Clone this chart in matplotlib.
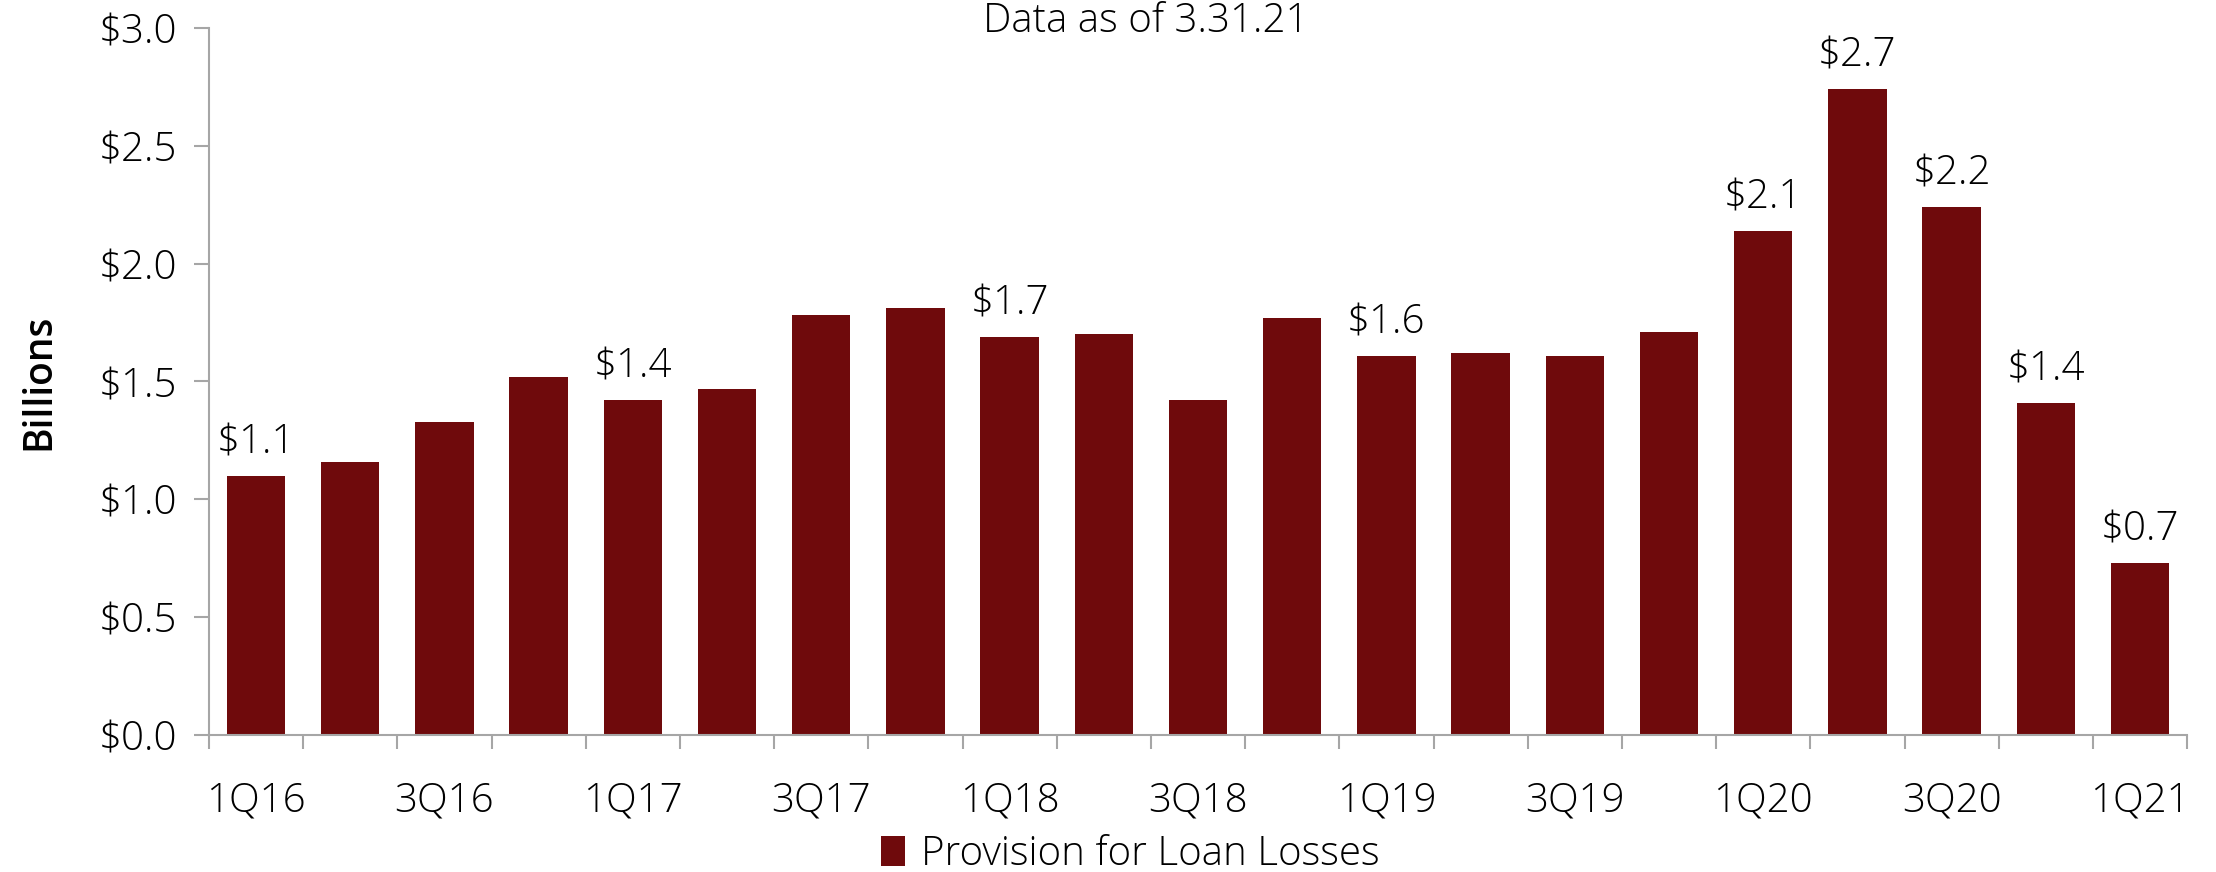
import numpy as np
import matplotlib
matplotlib.use("Agg")
import matplotlib.pyplot as plt

# Data (billions)
quarters = ["1Q16", "2Q16", "3Q16", "4Q16", "1Q17", "2Q17", "3Q17", "4Q17",
            "1Q18", "2Q18", "3Q18", "4Q18", "1Q19", "2Q19", "3Q19", "4Q19",
            "1Q20", "2Q20", "3Q20", "4Q20", "1Q21"]
provision = [1.10, 1.16, 1.33, 1.52, 1.42, 1.47, 1.78, 1.81,
             1.69, 1.70, 1.42, 1.77, 1.61, 1.62, 1.61, 1.71,
             2.14, 2.74, 2.24, 1.41, 0.73]
labelled = ["1Q16", "1Q17", "1Q18", "1Q19", "1Q20", "2Q20", "3Q20", "4Q20", "1Q21"]
y_ticks = [0.0, 0.5, 1.0, 1.5, 2.0, 2.5, 3.0]

bar_color = "#6f0a0c"
spine_color = "#a6a6a6"
plt.rcParams["font.family"] = ["Open Sans", "DejaVu Sans"]
plt.rcParams["font.weight"] = "light"
plt.rcParams["text.color"] = "black"
plt.rcParams["xtick.labelcolor"] = "black"
plt.rcParams["ytick.labelcolor"] = "black"
fs = 29

fig = plt.figure(figsize=(22.16, 8.72), dpi=100)
ax = fig.add_axes([0.0943, 0.157, 0.8927, 0.811])

x = np.arange(len(quarters))
ax.bar(x, provision, width=0.62, color=bar_color, label="Provision for Loan Losses")

for i, (q, v) in enumerate(zip(quarters, provision)):
    if q in labelled:
        ax.annotate(f"${v:.1f}", (i, v), xytext=(0, 9), textcoords="offset points",
                    ha="center", va="bottom", fontsize=fs)

ax.set_xlim(-0.5, len(quarters) - 0.5)
ax.set_ylim(0, 3.0)

# Excel-style: tick marks between categories, labels every other quarter
ax.set_xticks(np.arange(-0.5, len(quarters)), minor=False)
ax.set_xticklabels([])
ax.set_xticks(x[::2], minor=True)
ax.set_xticklabels(quarters[::2], minor=True)
ax.tick_params(axis="x", which="major", length=10, width=1.5, color=spine_color)
ax.tick_params(axis="x", which="minor", length=0, pad=33, labelsize=fs)

ax.set_yticks(y_ticks)
ax.set_yticklabels([f"${t:.1f}" for t in y_ticks])
ax.tick_params(axis="y", length=11, width=1.5, color=spine_color, labelsize=fs, pad=12)

for s in ["top", "right"]:
    ax.spines[s].set_visible(False)
for s in ["left", "bottom"]:
    ax.spines[s].set_color(spine_color)
    ax.spines[s].set_linewidth(1.5)

ax.set_ylabel("Billions", fontsize=28, fontweight="semibold", labelpad=28)

# title sits right at the top edge, as in the source
fig.text(0.517, 0.963, "Data as of 3.31.21", ha="center", va="baseline", fontsize=fs)

fig.legend(loc="center", bbox_to_anchor=(0.51, 0.02), frameon=False,
           fontsize=fs, handlelength=0.6, handleheight=0.75, handletextpad=0.4,
           borderpad=0, borderaxespad=0)

fig.savefig("out.png", dpi=100)
